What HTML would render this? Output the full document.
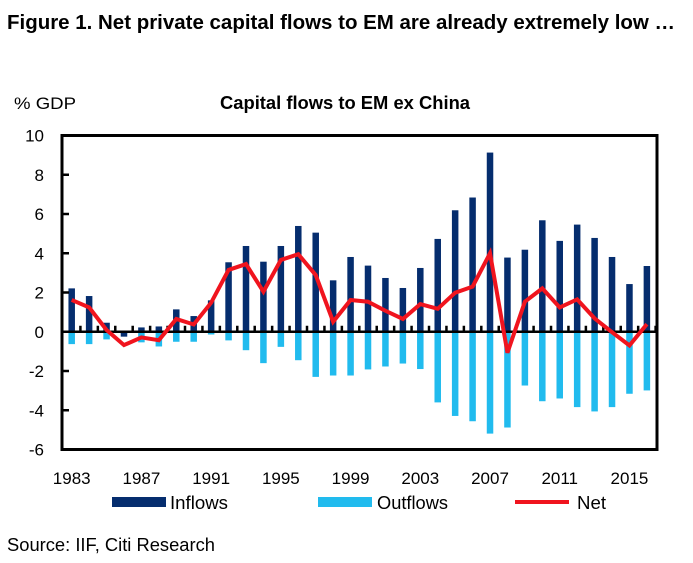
<!DOCTYPE html>
<html><head><meta charset="utf-8"><style>
body{margin:0;background:#fff;font-family:"Liberation Sans",Arial,sans-serif;}
svg text{font-family:"Liberation Sans",Arial,sans-serif;}
</style></head><body>
<svg id="c" width="693" height="558" viewBox="0 0 693 558" xmlns="http://www.w3.org/2000/svg">
<text x="7" y="29" font-size="20" font-weight="bold" textLength="668" lengthAdjust="spacingAndGlyphs">Figure 1. Net private capital flows to EM are already extremely low …</text>
<text x="14" y="109" font-size="17" textLength="62" lengthAdjust="spacingAndGlyphs">% GDP</text>
<text x="220" y="109" font-size="18" font-weight="bold" textLength="250" lengthAdjust="spacingAndGlyphs">Capital flows to EM ex China</text>
<g id="plot"></g>
<g>
<rect x="112" y="497" width="54" height="10" fill="#052d6e"/>
<text x="170" y="509" font-size="18" textLength="58" lengthAdjust="spacingAndGlyphs">Inflows</text>
<rect x="318" y="497" width="54" height="10" fill="#21bbee"/>
<text x="377" y="509" font-size="18" textLength="71" lengthAdjust="spacingAndGlyphs">Outflows</text>
<line x1="515" y1="502" x2="569" y2="502" stroke="#f0141e" stroke-width="4"/>
<text x="577" y="509" font-size="18" textLength="29" lengthAdjust="spacingAndGlyphs">Net</text>
</g>
<text x="7" y="551" font-size="18" textLength="208" lengthAdjust="spacingAndGlyphs">Source: IIF, Citi Research</text>
</svg>
<script>
const years=[1983,1984,1985,1986,1987,1988,1989,1990,1991,1992,1993,1994,1995,1996,1997,1998,1999,2000,2001,2002,2003,2004,2005,2006,2007,2008,2009,2010,2011,2012,2013,2014,2015,2016];
const inflows=[2.21,1.82,0.46,-0.25,0.22,0.27,1.14,0.8,1.6,3.54,4.37,3.57,4.37,5.39,5.05,2.62,3.81,3.37,2.74,2.23,3.25,4.73,6.19,6.84,9.13,3.78,4.18,5.68,4.63,5.46,4.78,3.81,2.43,3.35];
const outflows=[-0.63,-0.63,-0.39,-0.1,-0.54,-0.75,-0.51,-0.51,-0.14,-0.44,-0.94,-1.6,-0.77,-1.45,-2.3,-2.23,-2.23,-1.92,-1.77,-1.62,-1.9,-3.6,-4.29,-4.56,-5.19,-4.88,-2.74,-3.54,-3.4,-3.84,-4.06,-3.84,-3.16,-2.99];
const net=[1.62,1.24,0.09,-0.68,-0.29,-0.43,0.65,0.37,1.48,3.15,3.45,2.04,3.66,3.95,2.89,0.51,1.62,1.53,1.07,0.65,1.41,1.17,1.99,2.3,4.0,-1.07,1.53,2.21,1.24,1.65,0.68,-0.02,-0.7,0.39];
const yTicks=[-6,-4,-2,0,2,4,6,8,10];
const xLabels=[1983,1987,1991,1995,1999,2003,2007,2011,2015];

const NS="http://www.w3.org/2000/svg";
const g=document.getElementById('plot');
const L=62,R=657,T=135.5,B=449.5;
const yMin=-6,yMax=10;
const y=v=>B-(v-yMin)/(yMax-yMin)*(B-T);
const step=17.43, x0=71.7;
const x=yr=>x0+(yr-years[0])*step;
function mk(tag,a){const e=document.createElementNS(NS,tag);for(const k in a)e.setAttribute(k,a[k]);g.appendChild(e);return e;}
const bw=6.5;
years.forEach((yr,i)=>{
  const o=mk('rect',{x:x(yr)-bw/2,y:y(0),width:bw,height:Math.max(0,y(outflows[i])-y(0)),fill:'#21bbee'});
  
  
  const v=inflows[i];
  const b=mk('rect',{x:x(yr)-bw/2,y:Math.min(y(v),y(0)),width:bw,height:Math.abs(y(v)-y(0)),fill:'#052d6e'});
  
  
});
const z=mk('line',{x1:L,x2:R,y1:y(0),y2:y(0),stroke:'#000','stroke-width':2.5});


years.forEach(yr=>{
  const t=mk('line',{x1:x(yr)+step/2,x2:x(yr)+step/2,y1:y(0),y2:y(0)-6,stroke:'#000','stroke-width':2.5});
  
  
});
yTicks.forEach(v=>{
  const t=mk('line',{x1:L,x2:L+7,y1:y(v),y2:y(v),stroke:'#000','stroke-width':2.5});
  
  
  const tx=mk('text',{x:44,y:y(v)+6,'font-size':17,'text-anchor':'end'});
  tx.textContent=v;
  
  
});
xLabels.forEach(yr=>{
  const tx=mk('text',{x:x(yr),y:484,'font-size':17,'text-anchor':'middle'});
  tx.textContent=yr;
  
  
});
const pl=mk('polyline',{points:years.map((yr,i)=>x(yr)+','+y(net[i])).join(' '),fill:'none',stroke:'#f0141e','stroke-width':4,'stroke-linejoin':'miter'});


const fr=mk('rect',{x:L,y:T,width:R-L,height:B-T,fill:'none',stroke:'#000','stroke-width':3});


</script>
</body></html>
